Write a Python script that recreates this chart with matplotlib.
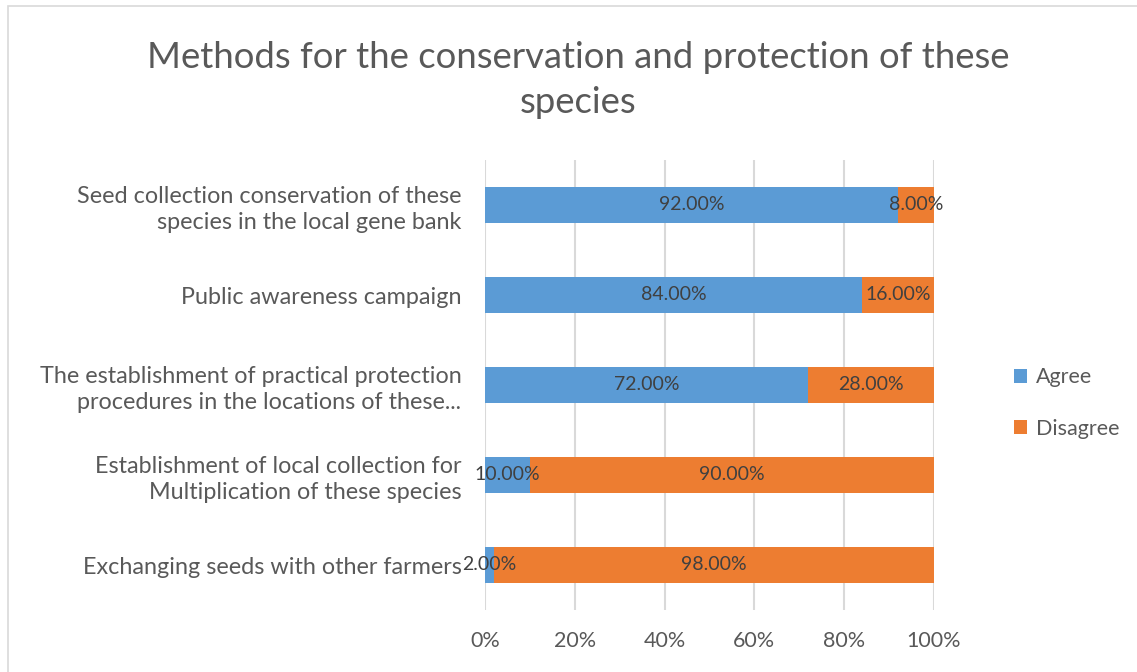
import matplotlib.pyplot as plt
from matplotlib.patches import Rectangle

categories = [
    'Seed collection conservation of these\nspecies in the local gene bank',
    'Public awareness campaign',
    'The establishment of practical protection\nprocedures in the locations of these...',
    'Establishment of local collection for\nMultiplication of these species',
    'Exchanging seeds with other farmers',
]
agree = [92, 84, 72, 10, 2]
disagree = [8, 16, 28, 90, 98]
xticks = [0, 20, 40, 60, 80, 100]

blue = '#5b9bd5'
orange = '#ed7d31'
txt = '#595959'

plt.rcParams['font.family'] = ['Lato', 'DejaVu Sans']

fig = plt.figure(figsize=(11.37, 6.72), dpi=100)
fig.patches.append(Rectangle((8 / 1137, -0.1), 1.2, 1 - 6 / 672 + 0.1, transform=fig.transFigure,
                             fill=False, edgecolor='#d9d9d9', linewidth=1.2))
ax = fig.add_axes([485 / 1137, 62 / 672, 449 / 1137, 450 / 672])

y = list(range(len(categories)))
b1 = ax.barh(y, agree, height=0.4, color=blue, label='Agree')
b2 = ax.barh(y, disagree, left=agree, height=0.4, color=orange, label='Disagree')
for bars in (b1, b2):
    ax.bar_label(bars, labels=[f'{b.get_width():.2f}%' for b in bars], label_type='center',
                 color='#404040', fontsize=14)

ax.set_ylim(len(categories) - 0.5, -0.5)
ax.set_xlim(0, 100)
ax.set_xticks(xticks)
ax.set_xticklabels([f'{v}%' for v in xticks], fontsize=15.5)
ax.set_yticks(y)
ax.set_yticklabels(categories, ha='right', multialignment='right', linespacing=1.3, fontsize=16.8)
ax.tick_params(axis='both', length=0, colors=txt)
ax.tick_params(axis='y', pad=17)
ax.tick_params(axis='x', pad=15)
ax.grid(axis='x', color='#d9d9d9', linewidth=1.5)
ax.set_axisbelow(True)
for s in ax.spines.values():
    s.set_visible(False)

fig.text(578 / 1137, 1 - 80 / 672, 'Methods for the conservation and protection of these\nspecies',
         ha='center', va='center', fontsize=26.3, color=txt, linespacing=1.45)

fig.legend(handles=[b1, b2], loc='center left', bbox_to_anchor=(995 / 1137, 1 - 403 / 672),
           frameon=False, fontsize=15.5, labelcolor=txt, handlelength=0.6, handleheight=0.6,
           labelspacing=1.45, handletextpad=0.4)

fig.savefig('out.png', dpi=100)
